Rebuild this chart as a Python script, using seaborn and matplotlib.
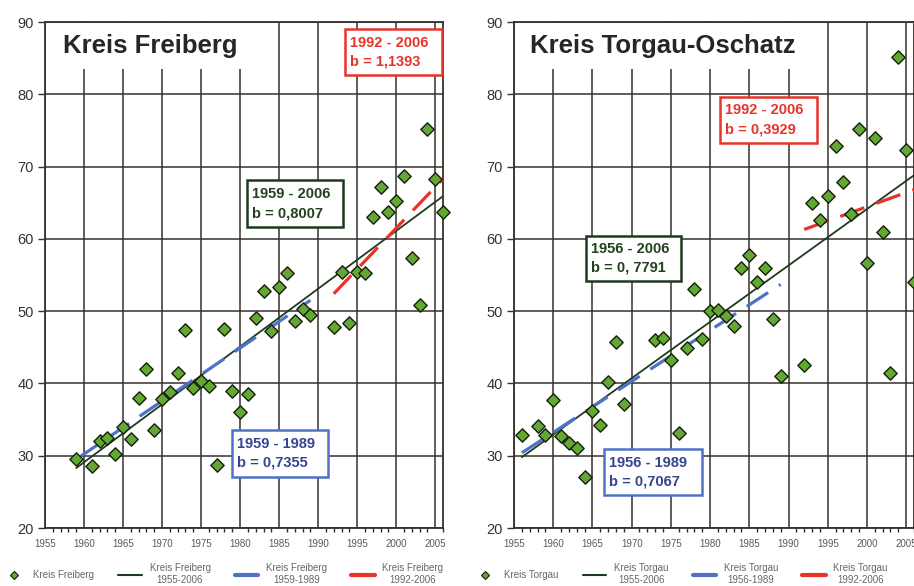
import pandas as pd
import seaborn as sns
import matplotlib.pyplot as plt
from matplotlib.lines import Line2D
from matplotlib.patches import Rectangle
from matplotlib.ticker import MultipleLocator

# %%-----------------------------------------------------------------------
# data

fb_years = [1959, 1961, 1962, 1963, 1964, 1965, 1966, 1967, 1968, 1969,
            1970, 1971, 1972, 1973, 1974, 1975, 1976, 1977, 1978, 1979,
            1980, 1981, 1982, 1983, 1984, 1985, 1986, 1987, 1988, 1989,
            1992, 1993, 1994, 1995, 1996, 1997, 1998, 1999, 2000, 2001,
            2002, 2003, 2004, 2005, 2006]
fb_values = [29.5, 28.6, 32.1, 32.5, 30.2, 34.0, 32.3, 38.0, 42.0, 33.6,
             37.8, 38.8, 41.5, 47.4, 39.3, 40.4, 39.7, 28.7, 47.5, 38.9,
             36.1, 38.6, 49.1, 52.8, 47.2, 53.3, 55.3, 48.7, 50.3, 49.5,
             47.8, 55.4, 48.4, 55.4, 55.3, 63.0, 67.2, 63.7, 65.2, 68.7,
             57.3, 50.8, 75.2, 68.3, 63.7]

tg_years = [1956, 1958, 1959, 1960, 1961, 1962, 1963, 1964, 1965, 1966,
            1967, 1968, 1969, 1973, 1974, 1975, 1976, 1977, 1978, 1979,
            1980, 1981, 1982, 1983, 1984, 1985, 1986, 1987, 1988, 1989,
            1992, 1993, 1994, 1995, 1996, 1997, 1998, 1999, 2000, 2001,
            2002, 2003, 2004, 2005, 2006]
tg_values = [32.8, 34.1, 32.9, 37.7, 32.7, 31.8, 31.0, 27.1, 36.2, 34.2,
             40.2, 45.7, 37.2, 46.0, 46.3, 43.2, 33.1, 44.9, 53.0, 46.1,
             50.0, 50.1, 49.3, 48.0, 55.9, 57.8, 54.1, 55.9, 48.9, 41.0,
             42.6, 65.0, 62.6, 65.9, 72.8, 67.9, 63.5, 75.2, 56.6, 74.0,
             61.0, 41.5, 85.2, 72.3, 54.1]

# trend line end points (full period, early period, late period)
fb_all_years, fb_all_vals = [1959, 2006], [28.3, 65.9]
fb_early_years, fb_early_vals = [1959, 1989], [29.5, 51.5]
fb_late_years, fb_late_vals = [1992, 2006], [52.4, 68.3]

tg_all_years, tg_all_vals = [1956, 2006], [29.8, 68.8]
tg_early_years, tg_early_vals = [1956, 1989], [30.4, 53.7]
tg_late_years, tg_late_vals = [1992, 2006], [61.3, 66.8]

fb_box_texts = ["1959 - 2006\nb = 0,8007", "1959 - 1989\nb = 0,7355", "1992 - 2006\nb = 1,1393"]
tg_box_texts = ["1956 - 2006\nb = 0, 7791", "1956 - 1989\nb = 0,7067", "1992 - 2006\nb = 0,3929"]

fb_legend = ["Kreis Freiberg", "Kreis Freiberg\n1955-2006", "Kreis Freiberg\n1959-1989", "Kreis Freiberg\n1992-2006"]
tg_legend = ["Kreis Torgau", "Kreis Torgau\n1955-2006", "Kreis Torgau\n1956-1989", "Kreis Torgau\n1992-2006"]

# %%-----------------------------------------------------------------------
# styling

GREEN_FILL = '#62a833'
DARK_GREEN = '#1e3a1e'
BLUE = '#4d72c6'
RED = '#e8332b'
GRID = '#35302c'

sns.set_style('white')
plt.rcParams['font.family'] = ['Liberation Sans', 'DejaVu Sans']

fig = plt.figure(figsize=(9.14, 5.86), dpi=100)
ax1 = fig.add_axes([45 / 914, 58 / 586, 398 / 914, 506 / 586])
ax2 = fig.add_axes([514 / 914, 58 / 586, 400 / 914, 506 / 586])


def draw_panel(ax, years, values, trends, title, title_x, boxes, box_colors, box_texts, legend_labels, legend_x):
    pts = pd.DataFrame({'year': years, 'value': values})
    sns.scatterplot(data=pts, x='year', y='value', marker='D', s=46, color=GREEN_FILL,
                    edgecolor='#151f0c', linewidth=1.0, ax=ax, zorder=6, clip_on=False)

    styles = [dict(color=DARK_GREEN, lw=1.3),
              dict(color=BLUE, lw=2.3, dashes=(8, 4)),
              dict(color=RED, lw=2.3, dashes=(8, 4))]
    for (tx, ty), st in zip(trends, styles):
        tdf = pd.DataFrame({'year': tx, 'value': ty})
        sns.lineplot(data=tdf, x='year', y='value', ax=ax, color=st['color'],
                     lw=st['lw'], zorder=5)
        if 'dashes' in st:
            ax.get_lines()[-1].set_dashes(st['dashes'])

    ax.set_xlim(1955, 2006)
    ax.set_ylim(20, 90)
    ax.xaxis.set_major_locator(MultipleLocator(5))
    ax.xaxis.set_minor_locator(MultipleLocator(1))
    ax.yaxis.set_major_locator(MultipleLocator(10))
    ax.grid(True, which='major', color=GRID, lw=1.1)
    ax.set_axisbelow(True)
    for sp in ax.spines.values():
        sp.set_color(GRID)
        sp.set_linewidth(1.3)
    ax.tick_params(axis='x', which='major', length=5, width=1, color=GRID,
                   labelsize=7, labelcolor='#5a5a5a', pad=3)
    ax.tick_params(axis='x', which='minor', length=3, width=1, color=GRID, bottom=True)
    ax.tick_params(axis='y', which='major', length=5, width=1, color=GRID,
                   labelsize=10.5, labelcolor='#333333', pad=3, left=True)
    ax.set_xlabel('')
    ax.set_ylabel('')

    ax.text(title_x, 86.7, title, fontsize=18.5, fontweight='bold', va='center', ha='left',
            zorder=7, bbox=dict(facecolor='white', edgecolor='none', pad=8))

    for (x0, x1, y0, y1), col, txt in zip(boxes, box_colors, box_texts):
        ax.add_patch(Rectangle((x0, y0), x1 - x0, y1 - y0, facecolor='white',
                               edgecolor=col[0], lw=1.8, zorder=8, clip_on=False))
        ax.text(x0 + 0.6, (y0 + y1) / 2, txt, color=col[1], fontsize=10.5, fontweight='bold',
                va='center', ha='left', linespacing=1.45, zorder=9)

    handles = [Line2D([], [], marker='D', ls='none', markersize=4, color=GREEN_FILL,
                      markeredgecolor='#151f0c', markeredgewidth=0.8),
               Line2D([], [], color=DARK_GREEN, lw=1.5),
               Line2D([], [], color=BLUE, lw=3),
               Line2D([], [], color=RED, lw=3)]
    leg = fig.legend(handles, legend_labels, loc='center left',
                     bbox_to_anchor=(legend_x, 12 / 586), ncol=4, frameon=False,
                     fontsize=7, labelcolor='#666666', handlelength=2.4,
                     columnspacing=2.5, handletextpad=0.8, borderpad=0,
                     borderaxespad=0)
    for t in leg.get_texts():
        t.set_multialignment('center')


draw_panel(ax1, fb_years, fb_values,
           [(fb_all_years, fb_all_vals), (fb_early_years, fb_early_vals), (fb_late_years, fb_late_vals)],
           'Kreis Freiberg', 1957.3,
           [(1980.9, 1993.2, 61.6, 68.1), (1979.0, 1991.3, 27.1, 33.6), (1993.5, 2005.9, 82.7, 89.0)],
           [(DARK_GREEN, '#23401f'), (BLUE, '#34448f'), (RED, RED)],
           fb_box_texts, fb_legend, 2 / 914)

draw_panel(ax2, tg_years, tg_values,
           [(tg_all_years, tg_all_vals), (tg_early_years, tg_early_vals), (tg_late_years, tg_late_vals)],
           'Kreis Torgau-Oschatz', 1957.0,
           [(1964.2, 1976.3, 54.2, 60.4), (1966.5, 1979.0, 24.6, 30.9), (1981.3, 1993.6, 73.3, 79.6)],
           [(DARK_GREEN, '#23401f'), (BLUE, '#34448f'), (RED, RED)],
           tg_box_texts, tg_legend, 473 / 914)

fig.savefig('out.png', dpi=100)
